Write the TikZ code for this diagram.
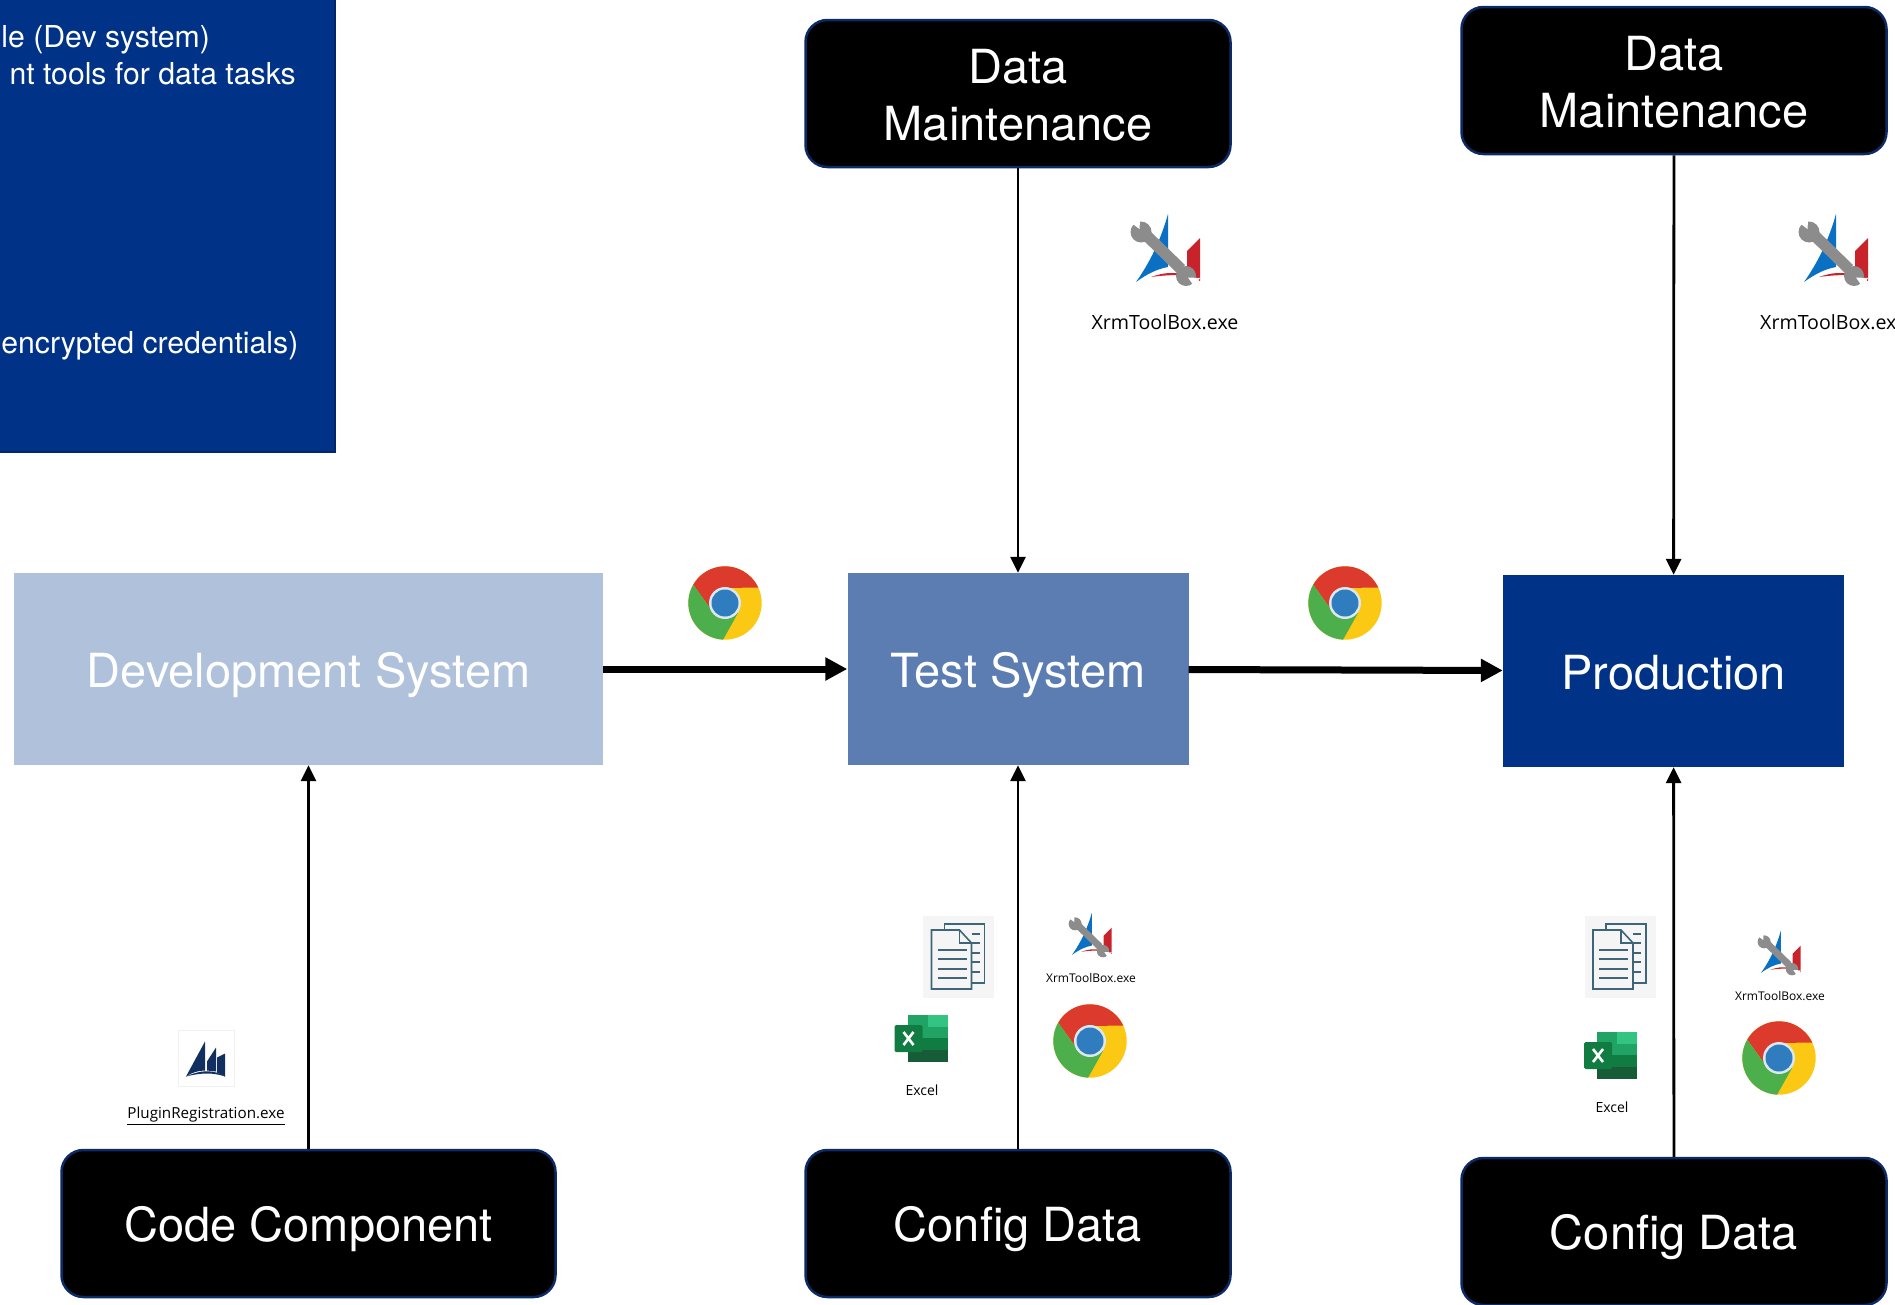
\documentclass[tikz,border=0pt]{standalone}
\usepackage{fontspec}
\setmainfont{TeX Gyre Heros}
\newfontfamily\iconfont{Open Sans}
\usetikzlibrary{arrows.meta}
\definecolor{navy}{HTML}{003387}
\definecolor{navyline}{HTML}{00276B}
\definecolor{midblue}{HTML}{5B7DB1}
\definecolor{paleblue}{HTML}{B0C1DB}
\definecolor{boxline}{HTML}{0B2A66}
\definecolor{sailblue}{HTML}{12305F}
\definecolor{docline}{HTML}{3E6678}
\definecolor{chred}{HTML}{DB3A2C}
\definecolor{chgreen}{HTML}{4CAF4B}
\definecolor{chyellow}{HTML}{FBC913}
\definecolor{chblue}{HTML}{2F7DBF}
\definecolor{chring}{HTML}{DDE8EE}
\definecolor{xrmblue}{HTML}{0A70C4}
\definecolor{xrmred}{HTML}{C8232A}
\definecolor{xrmgray}{HTML}{8C8C8C}
\definecolor{xla}{HTML}{21A366}
\definecolor{xlb}{HTML}{33C481}
\definecolor{xlc}{HTML}{107C41}
\definecolor{xld}{HTML}{185C37}
\begin{document}
\begin{tikzpicture}
  [x=1pt,y=-1pt,
   oneline/.style={text height=36pt,text depth=0pt},
   sysbox/.style={inner sep=0,text=white,oneline,font=\fontsize{47}{57}\selectfont},
   blackbox/.style={draw=boxline,line width=2.5pt,fill=black,rounded corners=22pt,
     inner sep=0,text=white,align=center,font=\fontsize{47}{57}\selectfont},
   paneltext/.style={anchor=base east,inner sep=0,text=white,font=\fontsize{30.2}{37}\selectfont},
   biglabel/.style={inner sep=0,font=\iconfont\fontsize{19.6}{24}\selectfont},
   smalllabel/.style={inner sep=0,font=\iconfont\fontsize{12}{15}\selectfont},
   plainflow/.style={line width=2.8pt,-{Triangle[length=16pt,width=15pt]}},
   thickflow/.style={line width=7pt,-{Triangle[length=22pt,width=22pt]}},
   pics/chromeicon/.style={code={
     \begin{scope}[y=1pt]
       \fill[chyellow] (0,0) circle [radius=36.7];
       \fill[chred] (-15,-5) -- (150:36.7) arc [start angle=150,end angle=25,radius=36.7] -- (0,15) -- cycle;
       \fill[chgreen] (-15,-5) -- (150:36.7) arc [start angle=150,end angle=267,radius=36.7] -- (13,-10) -- (0,0) -- cycle;
       \fill[chring] (0,0) circle [radius=16];
       \fill[chblue] (0,0) circle [radius=13.5];
     \end{scope}}},
   pics/xrmicon/.style={code={
     \begin{scope}[y=1pt]
       \fill[xrmblue] (3,36) .. controls (-3,15) and (-12,-8) .. (-29,-32) .. controls (-18,-24) and (-8,-19) .. (3,-17) -- cycle;
       \fill[xrmred] (35,12) -- (22,-1) -- (22,-25) -- (35,-31) -- cycle;
       \fill[xrmred] (-14,-27) .. controls (0,-22) and (10,-22) .. (21,-25) .. controls (10,-25) and (0,-25) .. (-14,-27) -- cycle;
       \fill[xrmgray] (-16,20) -- (-24,12) -- (12,-23) -- (20,-15) -- cycle;
       \fill[xrmgray] (-24,18) circle [radius=10.5];
       \fill[xrmgray] (21,-26) circle [radius=10];
       \fill[white] (-25.5,21) -- (-24.8,33) -- (-35,28) -- cycle;
       \fill[white] (23,-27.5) -- (35,-28) -- (29.6,-37) -- cycle;
     \end{scope}}},
   pics/docicon/.style={code={
     \begin{scope}[y=1pt]
       \fill[black!4] (-35.5,-41) rectangle (35.5,41);
       \draw[docline,line width=1.6pt] (-14,27) -- (-14,33) -- (26,33) -- (26,-26) -- (13,-26);
       \foreach \ty in {23,14,4,-5,-15}
         \draw[docline,line width=1.4pt] (13,\ty) -- (21,\ty);
       \draw[docline,line width=1.6pt,fill=black!4] (-27,27) -- (1,27) -- (13,14) -- (13,-32) -- (-27,-32) -- cycle;
       \draw[docline,line width=1.4pt] (1,27) -- (1,14) -- (13,14);
       \foreach \ty in {7,-2,-12,-21}
         \draw[docline,line width=1.4pt] (-21,\ty) -- (8,\ty);
     \end{scope}}},
   pics/excelicon/.style={code={
     \begin{scope}[y=1pt]
       \fill[xla] (-14,23) rectangle (6,11);
       \fill[xlb] (6,23) rectangle (26,11);
       \fill[xla] (-14,11) rectangle (26,0);
       \fill[xlc] (-14,0) rectangle (26,-12);
       \fill[xld] (-14,-12) rectangle (26,-24);
       \fill[xlc,rounded corners=1.5pt] (-27,13) rectangle (1,-14);
       \draw[white,line width=2.6pt] (-18,6) -- (-8,-7) (-8,6) -- (-18,-7);
     \end{scope}}},
   pics/sailicon/.style={code={
     \begin{scope}[y=1pt]
       \draw[black!6,fill=white] (-28,-28) rectangle (28,28);
       \fill[sailblue] (-1,17) -- (-20,-18) .. controls (-14,-14) and (-8,-12) .. (-1,-12) -- cycle;
       \fill[sailblue] (10,11) -- (1,-3) -- (1,-12) -- (10,-13) -- cycle;
       \fill[sailblue] (19,5) -- (11,1) -- (11,-14) -- (19,-18) -- cycle;
       \fill[sailblue] (-20,-18) .. controls (-5,-11) and (8,-11) .. (19,-18) .. controls (8,-14) and (-5,-14) .. (-20,-18) -- cycle;
     \end{scope}}}]
  \useasboundingbox (0,0) rectangle (1895,1304);

  % panel cut by the page edge
  \node (np) at (162.5,221) [draw=navyline,line width=2.5pt,fill=navy,minimum width=345pt,minimum height=462pt] {};
  \node (pt1) at (210,47)    [paneltext] {le (Dev system)};
  \node (pt2) at (296,84)    [paneltext] {nt tools for data tasks};
  \node (pt3) at (298.5,353) [paneltext] {encrypted credentials)};

  \node (ndev)  at (308.5,669) [sysbox,fill=paleblue,minimum width=589pt,minimum height=192pt] {Development System};
  \node (ntest) at (1018,669)  [sysbox,fill=midblue,minimum width=341pt,minimum height=192pt] {Test System};
  \node (nprod) at (1673.5,671) [sysbox,fill=navy,minimum width=341pt,minimum height=192pt] {Production};

  \node (nd1) at (1018,93.5)   [blackbox,text height=95pt,minimum width=425pt,minimum height=147pt] {Data\\Maintenance};
  \node (nd2) at (1674,80.5)   [blackbox,text height=95pt,minimum width=425pt,minimum height=147pt] {Data\\Maintenance};
  \node (ncc) at (308.5,1223.5) [blackbox,oneline,minimum width=494pt,minimum height=147pt] {Code Component};
  \node (nc1) at (1018,1223.5) [blackbox,oneline,minimum width=425pt,minimum height=147pt] {Config Data};
  \node (nc2) at (1674,1231.5) [blackbox,oneline,minimum width=425pt,minimum height=147pt] {Config Data};

  \path[plainflow]
    (nd1) edge (ntest)
    (nd2) edge (nprod)
    (ncc) edge (ndev)
    (nc1) edge (ntest)
    (nc2) edge (nprod);
  \path[thickflow]
    (ndev) edge (ntest)
    (ntest) edge (nprod);

  \pic (ch1) at (725,603)   {chromeicon};
  \pic (ch2) at (1345,603)  {chromeicon};
  \pic (ch3) at (1090,1041) {chromeicon};
  \pic (ch4) at (1779,1058) {chromeicon};

  \pic (xr1) at (1165,250) {xrmicon};
  \node (lx1) at (1165,322) [biglabel] {XrmToolBox.exe};
  \pic (xr2) at (1833,250) {xrmicon};
  \node (lx2) at (1760,322) [biglabel,anchor=west] {XrmToolBox.ex};
  \pic (xr3) [scale=.62] at (1090,935) {xrmicon};
  \node (lx3) at (1091,978) [smalllabel] {XrmToolBox.exe};
  \pic (xr4) [scale=.62] at (1779,953) {xrmicon};
  \node (lx4) at (1780,996) [smalllabel] {XrmToolBox.exe};

  \pic (dc1) at (958.5,957) {docicon};
  \pic (dc2) at (1620,957)  {docicon};

  \pic (ex1) at (921.5,1038) {excelicon};
  \node (le1) at (922,1090)  [smalllabel,font=\iconfont\fontsize{14}{17}\selectfont] {Excel};
  \pic (ex2) at (1611,1055)  {excelicon};
  \node (le2) at (1612,1107) [smalllabel,font=\iconfont\fontsize{14}{17}\selectfont] {Excel};

  \pic (pl1) at (206,1058.5) {sailicon};
  \node (lp1) at (206,1116)  [inner sep=0,font=\iconfont\fontsize{15.2}{18}\selectfont] {\underline{PluginRegistration.exe}};
\end{tikzpicture}
\end{document}
